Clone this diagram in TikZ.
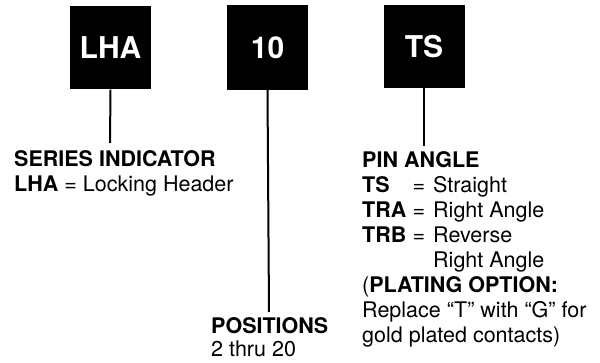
\documentclass[tikz,border=0pt]{standalone}
\usepackage{fontspec}
\setmainfont{TeX Gyre Heros}
\begin{document}
\begin{tikzpicture}[x=1pt,y=-1pt,
  codebox/.style={fill=black,text=white,minimum width=81pt,minimum height=83pt,inner sep=0pt,font=\fontsize{30}{30}\selectfont\bfseries},
  lbl/.style={anchor=base west,inner sep=0pt,font=\fontsize{21.5}{25}\selectfont},
  lead/.style={line width=2pt}]
\useasboundingbox (0,0) rectangle (600,363);
% code boxes
\node[codebox] (lha) at (110.5,48) {LHA};
\node[codebox,minimum height=85pt] (pos) at (267.5,47.5) {10};
\node[codebox] (ts)  at (424,46.5) {TS};
% leader end points
\coordinate (lhaend) at (110,143);
\coordinate (posend) at (269,312);
\coordinate (tsend)  at (424,146);
\draw[lead] (lha.south) -- (lhaend);
\draw[lead] (pos.south) -- (posend);
\draw[lead] (ts.south)  -- (tsend);
% series indicator
\node[lbl] (s1) at (14,167) {\bfseries SERIES INDICATOR};
\node[lbl] (s2) at (14,192) {\bfseries LHA\mdseries\ = Locking Header};
% positions
\node[lbl] (p1) at (211,334) {\bfseries POSITIONS};
\node[lbl] (p2) at (211,357) {2 thru 20};
% pin angle
\node[lbl] (a1) at (362,168) {\bfseries PIN ANGLE};
\node[lbl] (a2) at (362,193) {\bfseries TS};
\node[lbl] (a2q) at (412.5,193) {=};
\node[lbl] (a2e) at (433,193) {Straight};
\node[lbl] (a3) at (362,218) {\bfseries TRA};
\node[lbl] (a3q) at (412.5,218) {=};
\node[lbl] (a3e) at (433,218) {Right Angle};
\node[lbl] (a4) at (362,243) {\bfseries TRB};
\node[lbl] (a4q) at (412.5,243) {=};
\node[lbl] (a4e) at (433,243) {Reverse};
\node[lbl] (a5) at (433,268) {Right Angle};
\node[lbl] (a6) at (362,293) {(\bfseries PLATING OPTION:};
\node[lbl] (a7) at (362,318) {Replace “T” with “G” for};
\node[lbl] (a8) at (362,343) {gold plated contacts)};
\end{tikzpicture}
\end{document}
